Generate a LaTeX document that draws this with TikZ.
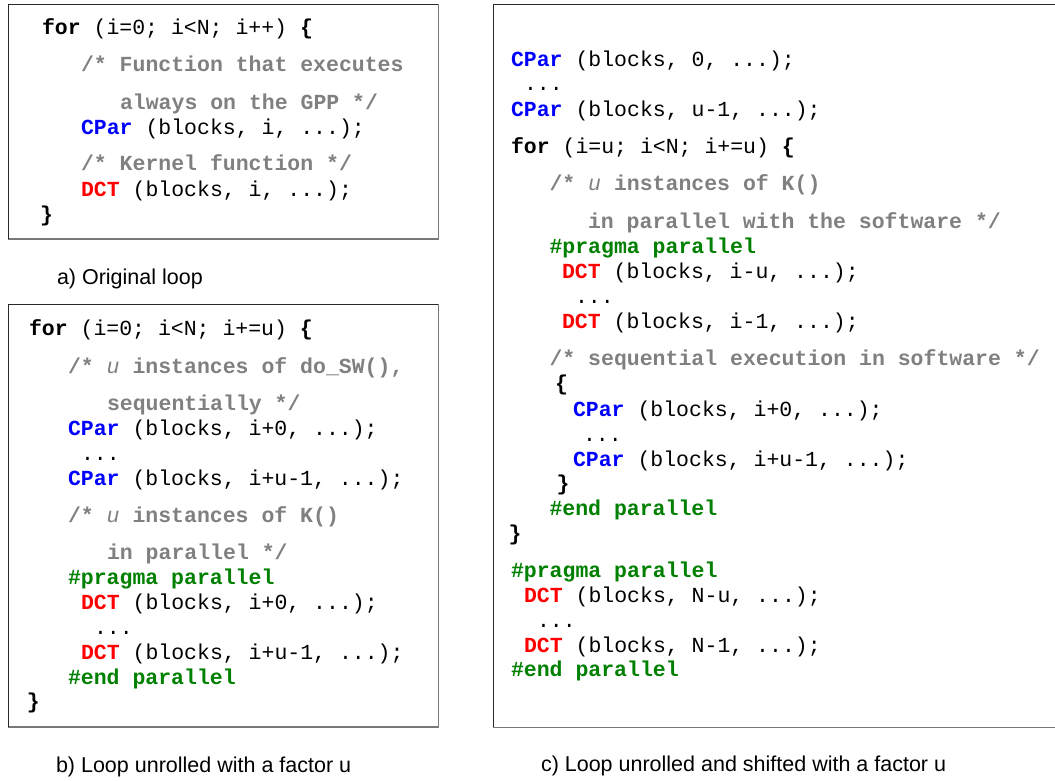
\documentclass[tikz,border=0pt]{standalone}
\usepackage{fontspec}
\setmonofont{Liberation Mono}
\setsansfont{Liberation Sans}
\definecolor{cgray}{RGB}{128,128,128}
\definecolor{cblue}{RGB}{0,0,255}
\definecolor{cred}{RGB}{255,0,0}
\definecolor{cgreen}{RGB}{0,128,0}
\definecolor{edgedark}{RGB}{40,40,40}
\definecolor{edgelight}{RGB}{120,120,120}
\newcommand\codefont{\ttfamily\fontsize{21.5}{21.5}\selectfont}
\newcommand\Kw[1]{\textbf{#1}}
\newcommand\Cm[1]{{\bfseries\color{cgray}#1}}
\newcommand\Uu{{\mdseries\itshape u}}
\newcommand\CPar{{\bfseries\color{cblue}CPar}}
\newcommand\DCT{{\bfseries\color{cred}DCT}}
\newcommand\Prg[1]{{\bfseries\color{cgreen}#1}}
\begin{document}
\begin{tikzpicture}[x=1pt,y=-1pt,
  codeline/.style={anchor=base west, inner sep=0pt, outer sep=0pt, font=\codefont},
  caption/.style={anchor=base west, inner sep=0pt, outer sep=0pt, font=\sffamily\fontsize{21.5}{21.5}\selectfont},
  darkedge/.style={draw=edgedark, line width=1.2pt},
  lightedge/.style={draw=edgelight, line width=1.6pt}]
\useasboundingbox (0,0) rectangle (1055,781);
\begin{scope}
\clip (0,0) rectangle (1055,781);
% box a
\coordinate (aTL) at (8.3,4.3);
\coordinate (aBR) at (438.3,238.7);
\draw[lightedge] (aTL |- aBR) -- (aBR) -- (aBR |- aTL);
\draw[darkedge] (aTL |- aBR) -- (aTL) -- (aBR |- aTL);
% box b
\coordinate (bTL) at (8.3,304.3);
\coordinate (bBR) at (438.3,726.7);
\draw[lightedge] (bTL |- bBR) -- (bBR) -- (bBR |- bTL);
\draw[darkedge] (bTL |- bBR) -- (bTL) -- (bBR |- bTL);
% box c
\coordinate (cTL) at (493.3,4.3);
\coordinate (cBR) at (1062,727.3);
\draw[lightedge] (cTL |- cBR) -- (cBR);
\draw[darkedge] (cTL |- cBR) -- (cTL) -- (cBR |- cTL);
\end{scope}

% ---- a) original loop
\node[codeline] (a1) at (42,34.3) {\Kw{for} (i=0; i<N; i++) \Kw{\{}};
\node[codeline] (a2) at (81,71.7) {\Cm{/* Function that executes}};
\node[codeline] (a3) at (120,109.3) {\Cm{always on the GPP */}};
\node[codeline] (a4) at (81,134.3) {\CPar{} (blocks, i, ...);};
\node[codeline] (a5) at (81,171) {\Cm{/* Kernel function */}};
\node[codeline] (a6) at (81,196.7) {\DCT{} (blocks, i, ...);};
\node[codeline] (a7) at (40,221) {\Kw{\}}};
\node[caption] (la) at (57,284) {a) Original loop};

% ---- b) unrolled
\node[codeline] (b1) at (29,335) {\Kw{for} (i=0; i<N; i+=u) \Kw{\{}};
\node[codeline] (b2) at (68,373.3) {\Cm{/* \Uu{} instances of do\_SW(),}};
\node[codeline] (b3) at (107,410.7) {\Cm{sequentially */}};
\node[codeline] (b4) at (68,435.7) {\CPar{} (blocks, i+0, ...);};
\node[codeline] (b5) at (81,460) {...};
\node[codeline] (b6) at (68,485) {\CPar{} (blocks, i+u-1, ...);};
\node[codeline] (b7) at (68,522.3) {\Cm{/* \Uu{} instances of K()}};
\node[codeline] (b8) at (107,559.3) {\Cm{in parallel */}};
\node[codeline] (b9) at (68,584.3) {\Prg{\#pragma parallel}};
\node[codeline] (b10) at (81,609.3) {\DCT{} (blocks, i+0, ...);};
\node[codeline] (b11) at (94,634) {...};
\node[codeline] (b12) at (81,659.3) {\DCT{} (blocks, i+u-1, ...);};
\node[codeline] (b13) at (68,684) {\Prg{\#end parallel}};
\node[codeline] (b14) at (27,708.5) {\Kw{\}}};
\node[caption] (lb) at (56,772.7) {b) Loop unrolled with a factor u};

% ---- c) unrolled and shifted
\node[codeline] (c1) at (511,66.7) {\CPar{} (blocks, 0, ...);};
\node[codeline] (c2) at (524,91) {...};
\node[codeline] (c3) at (511,116.7) {\CPar{} (blocks, u-1, ...);};
\node[codeline] (c4) at (511,153.3) {\Kw{for} (i=u; i<N; i+=u) \Kw{\{}};
\node[codeline] (c5) at (549.5,190.7) {\Cm{/* \Uu{} instances of K()}};
\node[codeline] (c6) at (588,228.3) {\Cm{in parallel with the software */}};
\node[codeline] (c7) at (549.5,253.3) {\Prg{\#pragma parallel}};
\node[codeline] (c8) at (562,278.3) {\DCT{} (blocks, i-u, ...);};
\node[codeline] (c9) at (575,303.3) {...};
\node[codeline] (c10) at (562,328.3) {\DCT{} (blocks, i-1, ...);};
\node[codeline] (c11) at (549.5,365) {\Cm{/* sequential execution in software */}};
\node[codeline] (c12) at (555,390.5) {\Kw{\{}};
\node[codeline] (c13) at (573,416.7) {\CPar{} (blocks, i+0, ...);};
\node[codeline] (c14) at (583,441) {...};
\node[codeline] (c15) at (573,466) {\CPar{} (blocks, i+u-1, ...);};
\node[codeline] (c16) at (556.5,490.5) {\Kw{\}}};
\node[codeline] (c17) at (549.5,515) {\Prg{\#end parallel}};
\node[codeline] (c18) at (508.5,540) {\Kw{\}}};
\node[codeline] (c19) at (511,577.3) {\Prg{\#pragma parallel}};
\node[codeline] (c20) at (524,602.7) {\DCT{} (blocks, N-u, ...);};
\node[codeline] (c21) at (537,627) {...};
\node[codeline] (c22) at (524,652.7) {\DCT{} (blocks, N-1, ...);};
\node[codeline] (c23) at (511,676.7) {\Prg{\#end parallel}};
\node[caption] (lc) at (541,771.7) {c) Loop unrolled and shifted with a factor u};
\end{tikzpicture}
\end{document}
